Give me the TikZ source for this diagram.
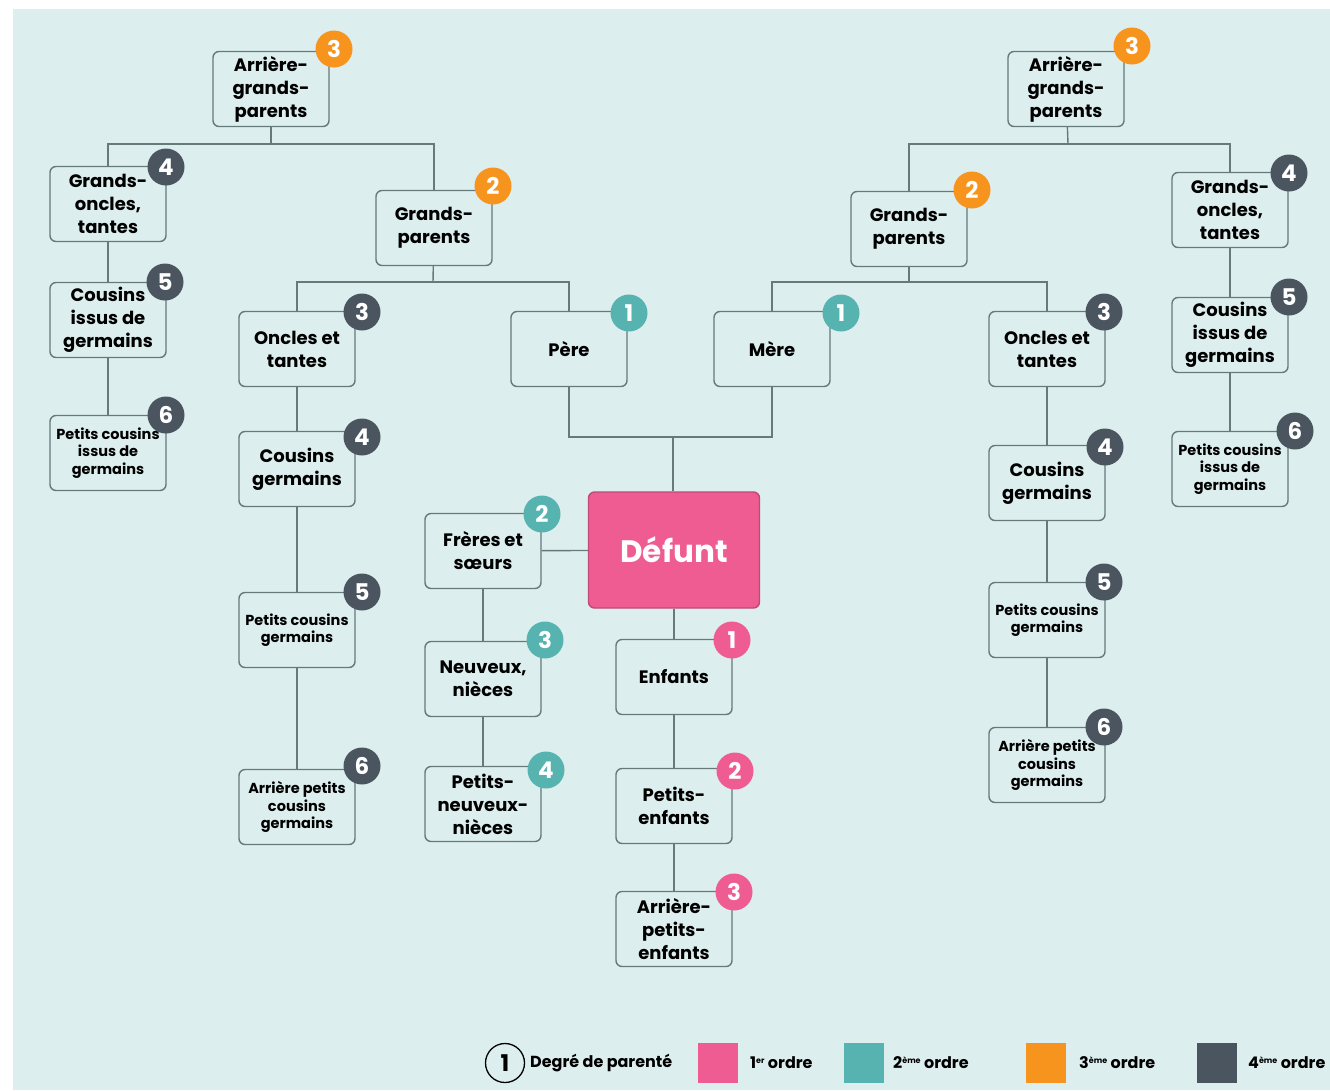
\documentclass[tikz,border=0pt]{standalone}
\usepackage{fontspec}
\setmainfont{Poppins}
\definecolor{fond}{HTML}{DDEEEE}
\definecolor{trait}{HTML}{657A7B}
\definecolor{rose}{HTML}{EF5C92}
\definecolor{turquoise}{HTML}{57B3AF}
\definecolor{orange}{HTML}{F7941E}
\definecolor{ardoise}{HTML}{4B5560}
\newcommand{\exposant}[1]{\raisebox{0.6ex}{\fontsize{8}{8}\selectfont #1}}

\begin{document}
\begin{tikzpicture}[x=1pt,y=-1pt,
    boite/.style={draw=trait,line width=1.4pt,fill=fond,rounded corners=6pt,
      minimum width=116pt,minimum height=75pt,align=center,inner sep=2pt,
      font=\bfseries\fontsize{18}{23}\selectfont},
    petite/.style={boite,font=\bfseries\fontsize{14.5}{17.5}\selectfont},
    pastille/.style={circle,fill=#1,text=white,minimum size=37pt,inner sep=0pt,
      font=\bfseries\fontsize{23}{23}\selectfont},
    lien/.style={draw=trait,line width=1.4pt},
    carre/.style={fill=#1,minimum size=40pt,inner sep=0pt},
    legende/.style={anchor=west,inner sep=0pt,font=\bfseries\fontsize{16}{18}\selectfont}]
  \useasboundingbox (0,0) rectangle (1330,1090);
  \fill[fond] (13,9) rectangle (1330,1090); % background
  % junctions
  \coordinate (jagpL) at (271,144);
  \coordinate (jgpL) at (433,282);
  \coordinate (jagpR) at (1068,144);
  \coordinate (jgpR) at (909,282);
  \coordinate (jpm) at (673,437);
  % left side
  \node[boite] (agpL) at (271,89) {Arrière-\\grands-\\parents};
  \node[boite] (goL) at (108,204) {Grands-\\oncles,\\tantes};
  \node[boite] (cigL) at (108,320) {Cousins\\issus de\\germains};
  \node[petite] (pcigL) at (108,453) {Petits cousins\\issus de\\germains};
  \node[boite] (gpL) at (434,228) {Grands-\\parents};
  \node[boite] (otL) at (297,349) {Oncles et\\tantes};
  \node[boite] (cgL) at (297,469) {Cousins\\germains};
  \node[petite] (pcgL) at (297,630) {Petits cousins\\germains};
  \node[petite] (apcgL) at (297,807) {Arrière petits\\cousins\\germains};
  \node[boite] (pere) at (569,349) {Père};
  % centre
  \node[boite,fill=rose,draw=rose!80!black,minimum width=171pt,minimum height=116pt,
    text=white,font=\bfseries\fontsize{31}{32}\selectfont] (defunt) at (674,550) {Défunt};
  \node[boite] (fs) at (483,551) {Frères et\\sœurs};
  \node[boite] (nn) at (483,679) {Neuveux,\\nièces};
  \node[boite] (pnn) at (483,804) {Petits-\\neuveux-\\nièces};
  \node[boite] (enf) at (674,677) {Enfants};
  \node[boite] (pe) at (674,806) {Petits-\\enfants};
  \node[boite] (ape) at (674,929) {Arrière-\\petits-\\enfants};
  % right side
  \node[boite] (mere) at (772,349) {Mère};
  \node[boite] (agpR) at (1066,89) {Arrière-\\grands-\\parents};
  \node[boite] (gpR) at (909,229) {Grands-\\parents};
  \node[boite] (goR) at (1230,210) {Grands-\\oncles,\\tantes};
  \node[boite] (cigR) at (1230,335) {Cousins\\issus de\\germains};
  \node[petite] (pcigR) at (1230,469) {Petits cousins\\issus de\\germains};
  \node[boite] (otR) at (1047,349) {Oncles et\\tantes};
  \node[boite] (cgR) at (1047,483) {Cousins\\germains};
  \node[petite] (pcgR) at (1047,620) {Petits cousins\\germains};
  \node[petite] (apcgR) at (1047,765) {Arrière petits\\cousins\\germains};
  % links
  \draw[lien] (agpL) -- (jagpL); % stem
  \draw[lien] (goL.north) |- (jagpL) -| (gpL.north);
  \draw[lien] (goL) -- (cigL) -- (pcigL);
  \draw[lien] (gpL) -- (jgpL);
  \draw[lien] (otL.north) |- (jgpL) -| (pere.north);
  \draw[lien] (otL) -- (cgL) -- (pcgL) -- (apcgL);
  \draw[lien] (pere.south) |- (jpm) -| (mere.south);
  \draw[lien] (jpm) -- (jpm |- defunt.north);
  \draw[lien] (fs) -- (defunt);
  \draw[lien] (fs) -- (nn) -- (pnn);
  \draw[lien] (defunt) -- (enf) -- (pe) -- (ape);
  \draw[lien] (agpR) -- (jagpR);
  \draw[lien] (gpR.north) |- (jagpR) -| (goR.north);
  \draw[lien] (goR) -- (cigR) -- (pcigR);
  \draw[lien] (gpR) -- (jgpR);
  \draw[lien] (mere.north) |- (jgpR) -| (otR.north);
  \draw[lien] (otR) -- (cgR) -- (pcgR) -- (apcgR);
  % badges
  \node[pastille=orange] (bagpL) at (334,49) {3};
  \node[pastille=ardoise] (bgoL) at (166,167) {4};
  \node[pastille=ardoise] (bcigL) at (165,282) {5};
  \node[pastille=ardoise] (bpcigL) at (166,415) {6};
  \node[pastille=orange] (bgpL) at (493,186) {2};
  \node[pastille=ardoise] (botL) at (362,312) {3};
  \node[pastille=ardoise] (bcgL) at (362,437) {4};
  \node[pastille=ardoise] (bpcgL) at (362,592) {5};
  \node[pastille=ardoise] (bapcgL) at (362,766) {6};
  \node[pastille=turquoise] (bpere) at (629,313) {1};
  \node[pastille=turquoise] (bmere) at (841,313) {1};
  \node[pastille=turquoise] (bfs) at (542,514) {2};
  \node[pastille=turquoise] (bnn) at (545,640) {3};
  \node[pastille=turquoise] (bpnn) at (546,770) {4};
  \node[pastille=rose] (benf) at (732,640) {1};
  \node[pastille=rose] (bpe) at (735,771) {2};
  \node[pastille=rose] (bape) at (734,892) {3};
  \node[pastille=orange] (bagpR) at (1132,46) {3};
  \node[pastille=orange] (bgpR) at (972,190) {2};
  \node[pastille=ardoise] (bgoR) at (1289,173) {4};
  \node[pastille=ardoise] (bcigR) at (1289,297) {5};
  \node[pastille=ardoise] (bpcigR) at (1295,431) {6};
  \node[pastille=ardoise] (botR) at (1104,312) {3};
  \node[pastille=ardoise] (bcgR) at (1105,447) {4};
  \node[pastille=ardoise] (bpcgR) at (1104,582) {5};
  \node[pastille=ardoise] (bapcgR) at (1104,727) {6};
  % legend
  \node[circle,draw=black,line width=1.3pt,minimum size=39pt,inner sep=0pt,
    font=\bfseries\fontsize{23}{23}\selectfont] (degre) at (505,1063) {1};
  \node[legende] (tdegre) at (530,1063) {Degré de parenté};
  \node[carre=rose] (c1) at (718,1063) {};
  \node[legende] (t1) at (750,1063) {1\exposant{er} ordre};
  \node[carre=turquoise] (c2) at (864,1063) {};
  \node[legende] (t2) at (893,1063) {2\exposant{ème} ordre};
  \node[carre=orange] (c3) at (1046,1063) {};
  \node[legende] (t3) at (1079,1063) {3\exposant{ème} ordre};
  \node[carre=ardoise] (c4) at (1217,1063) {};
  \node[legende] (t4) at (1248,1063) {4\exposant{ème} ordre};
\end{tikzpicture}
\end{document}
